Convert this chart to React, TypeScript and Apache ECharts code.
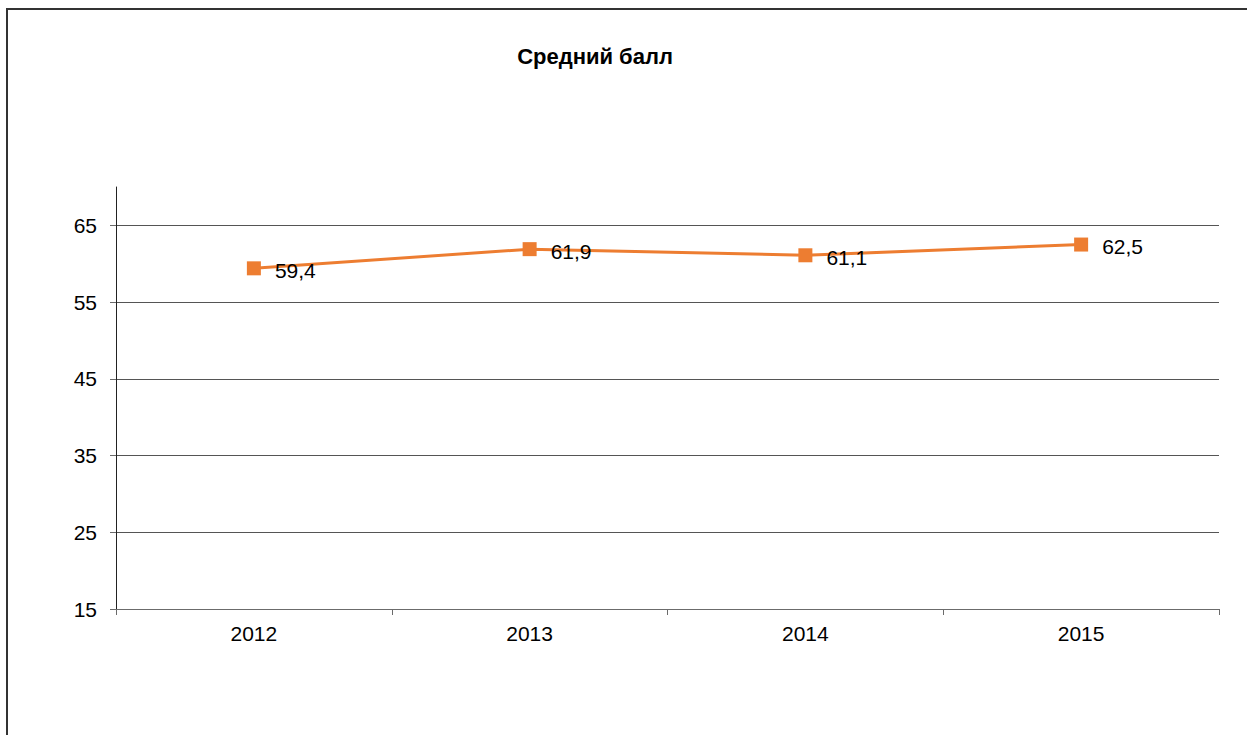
import React, { useEffect, useRef } from "react";
import * as echarts from "echarts";

const categories = ["2012", "2013", "2014", "2015"];
const scores = [59.4, 61.9, 61.1, 62.5];
const yTicks = { min: 15, max: 70, interval: 10 };
const titleText = "Средний балл";

const FONT = "Liberation Sans, Arial, sans-serif";

export default function App() {
  const ref = useRef<HTMLDivElement>(null);
  useEffect(() => {
    if (!ref.current) return;
    const chart = echarts.init(ref.current, undefined, { renderer: "svg" });
    chart.setOption({
      animation: false,
      backgroundColor: "#ffffff",
      textStyle: { fontFamily: FONT },
      title: {
        text: titleText,
        left: 590,
        top: 40,
        textAlign: "center",
        textStyle: { fontSize: 22, fontWeight: "bold", color: "#000", fontFamily: FONT },
      },
      graphic: [
        {
          type: "rect",
          shape: { x: 7, y: 9, width: 1400, height: 900 },
          style: { fill: "none", stroke: "#333", lineWidth: 2 },
          silent: true,
        },
      ],
      grid: { left: 116, right: 28, top: 187, bottom: 126, containLabel: false },
      xAxis: {
        type: "category",
        data: categories,
        boundaryGap: true,
        axisLine: { show: true, lineStyle: { color: "#6b6b6b", width: 1 } },
        axisTick: { show: true, alignWithLabel: false, length: 6, inside: false, lineStyle: { color: "#6b6b6b" } },
        axisLabel: { color: "#000", fontSize: 21, margin: 14, fontFamily: FONT },
        splitLine: { show: false },
      },
      yAxis: {
        type: "value",
        min: yTicks.min,
        max: yTicks.max,
        interval: yTicks.interval,
        axisLine: { show: true, lineStyle: { color: "#222", width: 1 } },
        axisTick: { show: true, length: 6, lineStyle: { color: "#6b6b6b" } },
        axisLabel: { color: "#000", fontSize: 21, margin: 19, showMaxLabel: false, fontFamily: FONT },
        splitLine: { show: true, showMinLine: false, showMaxLine: false, lineStyle: { color: "#555", width: 1 } },
      },
      series: [
        {
          type: "line",
          data: scores,
          symbol: "rect",
          symbolSize: 14,
          itemStyle: { color: "#ED7D31" },
          lineStyle: { color: "#ED7D31", width: 3 },
          label: {
            show: true,
            position: "right",
            distance: 14,
            offset: [0, 2],
            color: "#000",
            fontSize: 21,
            fontFamily: FONT,
            formatter: (p: any) => String(p.value).replace(".", ","),
          },
        },
      ],
    });
    return () => chart.dispose();
  }, []);
  return <div ref={ref} style={{ width: 1247, height: 735, position: "absolute", left: 0, top: 0 }} />;
}
